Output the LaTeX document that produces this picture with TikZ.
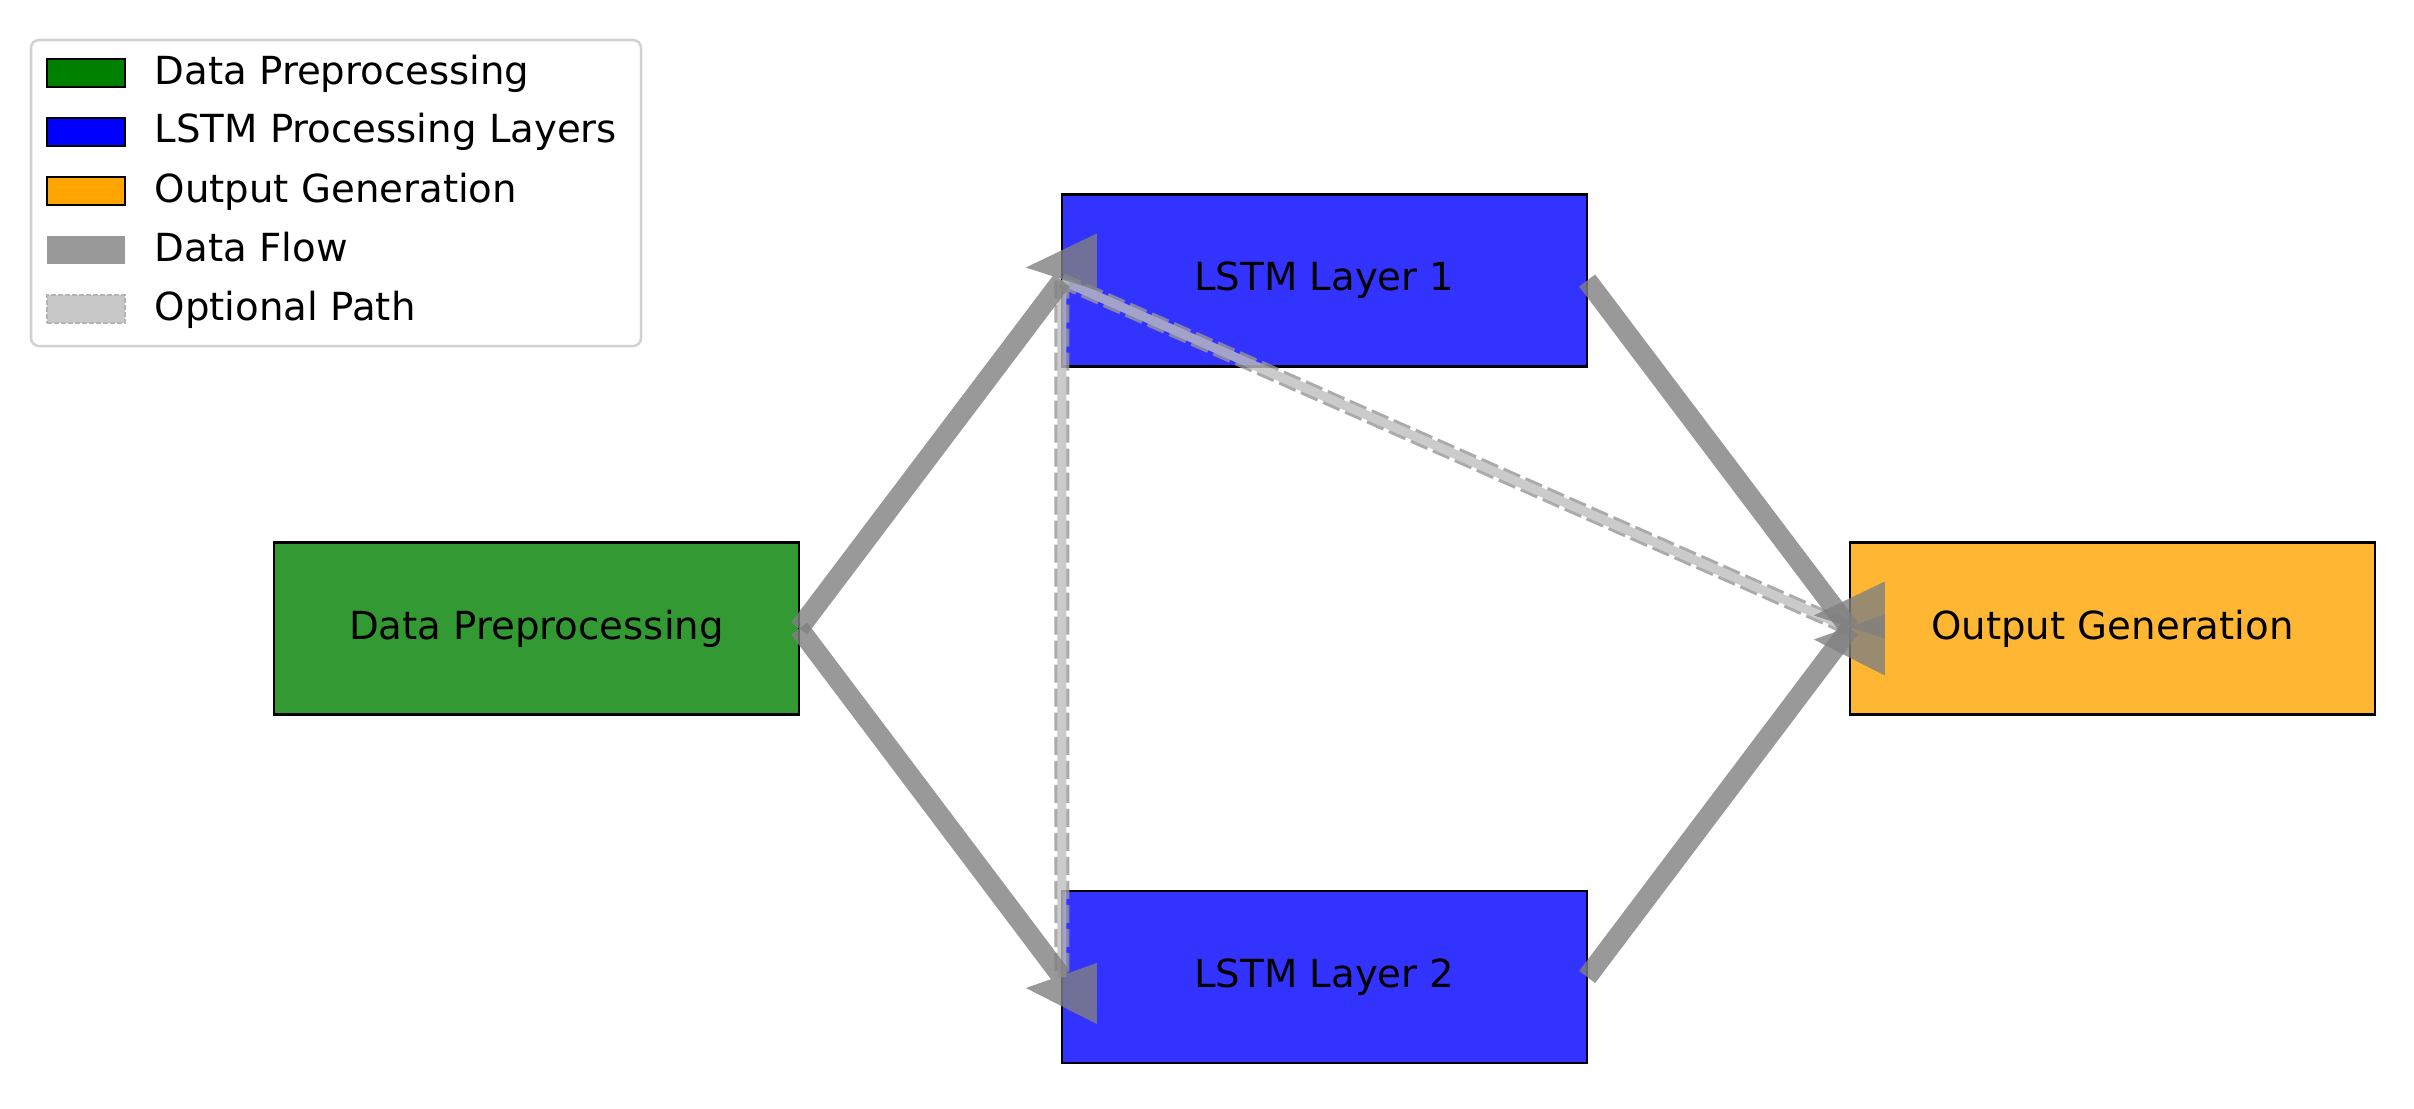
\documentclass[tikz,border=0pt]{standalone}
\usepackage{fontspec}
\setmainfont{DejaVu Sans}
\usetikzlibrary{calc}
\definecolor{cgreen}{RGB}{51,153,51}
\definecolor{cblue}{RGB}{51,51,255}
\definecolor{corange}{RGB}{255,183,51}
\definecolor{lgreen}{RGB}{0,128,0}
\definecolor{lblue}{RGB}{0,0,255}
\definecolor{lorange}{RGB}{255,165,0}
\definecolor{flow}{RGB}{128,128,128}
\definecolor{flowlegend}{RGB}{153,153,153}
\definecolor{optedge}{RGB}{150,150,150}
\definecolor{optfill}{RGB}{190,190,190}
\definecolor{optlegfill}{RGB}{200,200,200}
\definecolor{optlegedge}{RGB}{180,180,180}
\definecolor{legborder}{RGB}{210,210,210}
\begin{document}
\begin{tikzpicture}[x=0.01cm,y=-0.01cm,
  stage/.style={draw=black, line width=0.022cm, minimum width=5.25cm, minimum height=1.72cm,
    inner sep=0pt, outer sep=0pt, font=\fontsize{11}{13}\selectfont},
  shaft/.style={draw=flow, line width=0.2cm},
  optband/.style={line width=0.15cm, draw=optedge, dash pattern=on 0.18cm off 0.06cm},
  optcore/.style={line width=0.09cm, draw=optfill},
  legpatch/.style={minimum width=0.78cm, minimum height=0.28cm, inner sep=0pt, outer sep=0pt},
  legtext/.style={anchor=base west, inner sep=0pt, font=\fontsize{11}{13}\selectfont}
]
\useasboundingbox (0,0) rectangle (2414,1109);

% stages
\node[stage, fill=cgreen]  (dp) at (536.5,628.5) {Data Preprocessing};
\node[stage, fill=cblue]   (l1) at (1324.5,280.5) {LSTM Layer 1};
\node[stage, fill=cblue]   (l2) at (1324.5,977) {LSTM Layer 2};
\node[stage, fill=corange] (og) at (2112.5,628.5) {Output Generation};

% optional paths
\begin{scope}[transparency group, opacity=0.8]
  \draw[optband] (l1.west) -- (l2.west);
  \draw[optcore] (l1.west) -- (l2.west);
\end{scope}
\begin{scope}[transparency group, opacity=0.8]
  \draw[optband] (l1.west) -- (og.west);
  \draw[optcore] (l1.west) -- (og.west);
\end{scope}

% data flow arrows
\begin{scope}[transparency group, opacity=0.8]
  \draw[shaft] (dp.east) -- (l1.west);
  \fill[flow] ($(l1.west)+(35,-47)$) -- ($(l1.west)+(-36,-13)$) -- ($(l1.west)+(35,10)$) -- cycle;
\end{scope}
\begin{scope}[transparency group, opacity=0.8]
  \draw[shaft] (dp.east) -- (l2.west);
  \fill[flow] ($(l2.west)+(35,47)$) -- ($(l2.west)+(-36,11)$) -- ($(l2.west)+(35,-14)$) -- cycle;
\end{scope}
\begin{scope}[transparency group, opacity=0.8]
  \draw[shaft] (l1.east) -- (og.west);
  \fill[flow] ($(og.west)+(35,47)$) -- ($(og.west)+(-36,11)$) -- ($(og.west)+(35,-14)$) -- cycle;
\end{scope}
\begin{scope}[transparency group, opacity=0.8]
  \draw[shaft] (l2.east) -- (og.west);
  \fill[flow] ($(og.west)+(35,-47)$) -- ($(og.west)+(-36,-13)$) -- ($(og.west)+(35,10)$) -- cycle;
\end{scope}

% legend
\draw[legborder, line width=0.025cm, rounded corners=0.08cm, fill=white] (31,40) rectangle (641,346);
\node[legpatch, draw=black, line width=0.025cm, fill=lgreen]  (k1) at (86,73) {};
\node[legpatch, draw=black, line width=0.025cm, fill=lblue]   (k2) at (86,132) {};
\node[legpatch, draw=black, line width=0.025cm, fill=lorange] (k3) at (86,191) {};
\node[legpatch, fill=flowlegend] (k4) at (86,250) {};
\node[legpatch, fill=optlegfill, draw=optlegedge, line width=0.025cm, dash pattern=on 0.05cm off 0.02cm] (k5) at (86,309) {};
\node[legtext] (t1) at (154,84)  {Data Preprocessing};
\node[legtext] (t2) at (154,143) {LSTM Processing Layers};
\node[legtext] (t3) at (154,202) {Output Generation};
\node[legtext] (t4) at (154,261) {Data Flow};
\node[legtext] (t5) at (154,320) {Optional Path};
\end{tikzpicture}
\end{document}
